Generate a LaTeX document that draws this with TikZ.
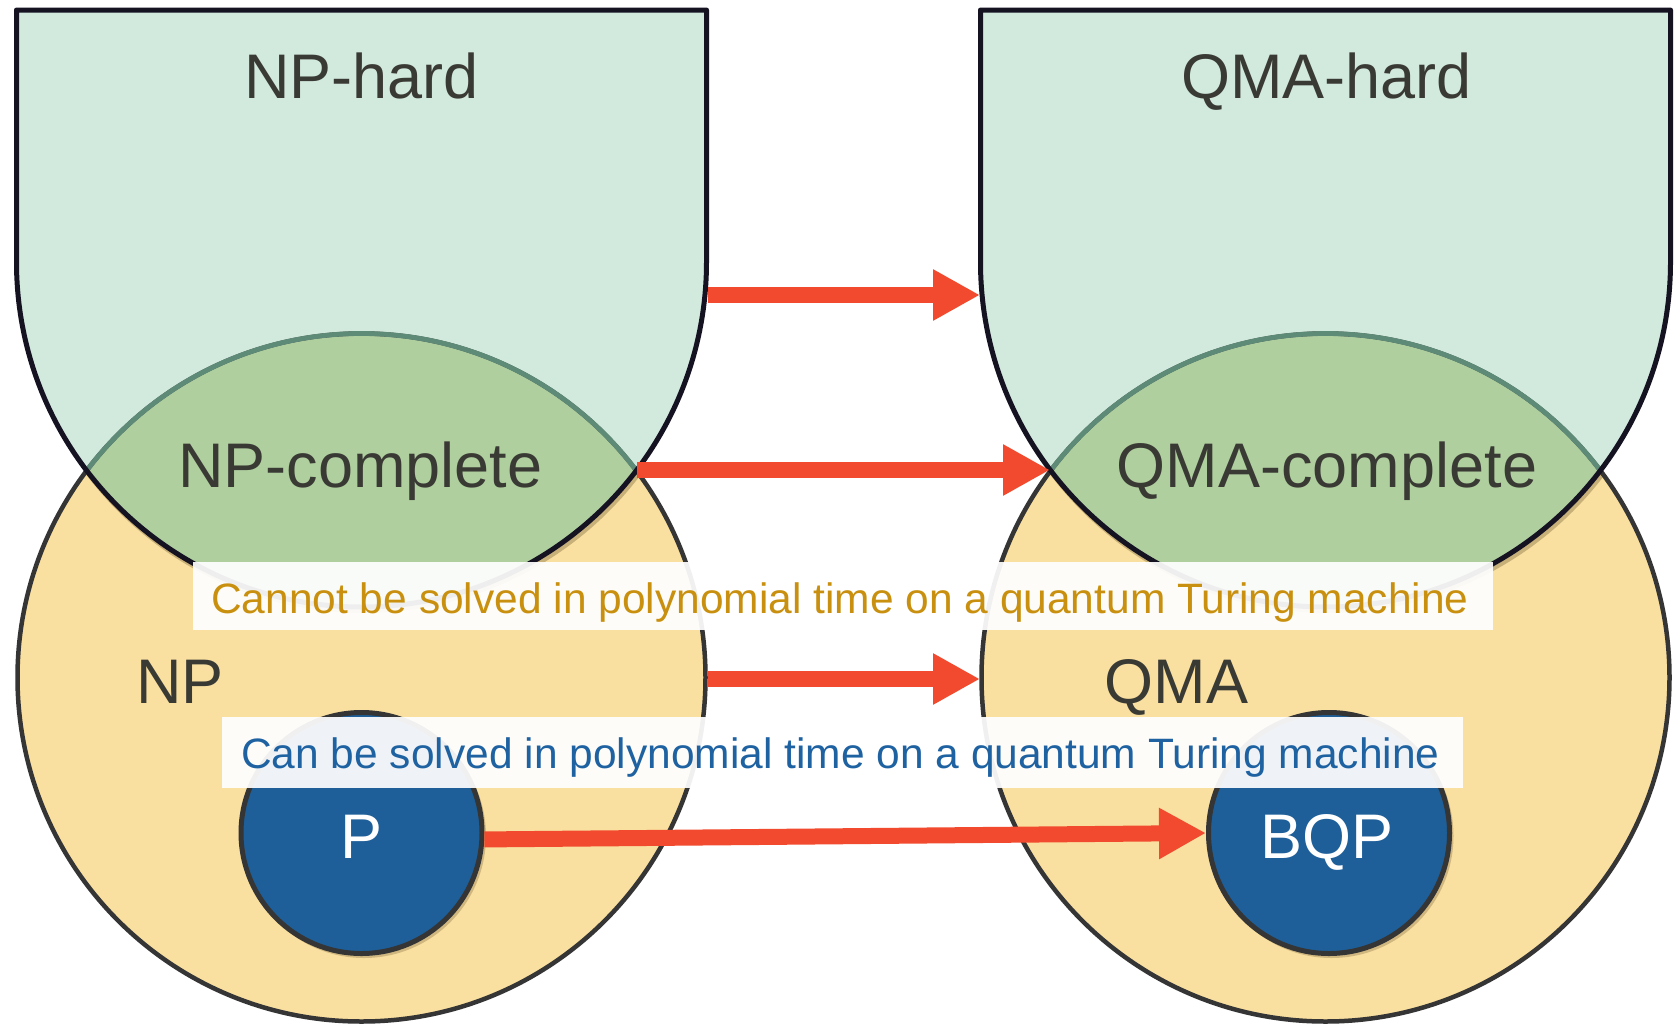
\documentclass[tikz,border=0pt]{standalone}
\usepackage{fontspec}
\setmainfont{Liberation Sans}
\usetikzlibrary{arrows.meta}
\definecolor{hardfill}{HTML}{D2E9DD}
\definecolor{npfill}{HTML}{FAE0A0}
\definecolor{lensfill}{HTML}{B0CF9F}
\definecolor{lensline}{HTML}{5E8B78}
\definecolor{darkline}{HTML}{151222}
\definecolor{greyline}{HTML}{353535}
\definecolor{pfill}{HTML}{1E5F99}
\definecolor{arrowred}{HTML}{F24A2E}
\definecolor{labeltext}{HTML}{3A3A35}
\definecolor{orangetext}{HTML}{C8900E}
\definecolor{bluetext}{HTML}{1F62A2}
\definecolor{shadowc}{HTML}{A89060}
\begin{document}
\begin{tikzpicture}[x=1pt,y=-1pt,
  bigtext/.style={font=\fontsize{63}{70}\selectfont, text=labeltext, inner sep=0pt, anchor=base},
  smalltext/.style={font=\fontsize{42.5}{50}\selectfont, inner sep=0pt, anchor=base west},
  labelbox/.style={fill=white, fill opacity=0.93, draw=none, inner sep=0pt},
  redarrow/.style={draw=arrowred, line width=16pt, -{Triangle[length=47pt,width=48pt]}},
  classbox/.style={circle, fill=pfill, draw=greyline, line width=5pt, minimum size=241pt, inner sep=0pt},
  outline/.style={draw=darkline, line width=5pt, line join=round},
  circline/.style={draw=greyline, line width=4.5pt}
]
\useasboundingbox (0,0) rectangle (1674,1026);
\fill[white] (0,0) rectangle (1674,1026);

% ---------- left (NP) and right (QMA) groups ----------
\foreach \cx in {361.5, 1325.5}{
  \fill[npfill] (\cx,677.5) circle[radius=344];
  \fill[hardfill] (\cx-345,10) -- (\cx-345,262) arc[start angle=180,end angle=0,radius=345] -- (\cx+345,10) -- cycle;
  \begin{scope}
    \clip (\cx,677.5) circle[radius=344];
    \fill[lensfill] (\cx-345,10) -- (\cx-345,262) arc[start angle=180,end angle=0,radius=345] -- (\cx+345,10) -- cycle;
    \draw[shadowc, line width=4pt, opacity=0.6] (\cx-343,266) arc[start angle=180,end angle=0,radius=345];
  \end{scope}
  \draw[circline] (\cx,677.5) circle[radius=344];
  \begin{scope}
    \clip (\cx-345,10) -- (\cx-345,262) arc[start angle=180,end angle=0,radius=345] -- (\cx+345,10) -- cycle;
    \draw[lensline, line width=4.8pt] (\cx,677.5) circle[radius=344];
  \end{scope}
  \draw[outline] (\cx-345,10) -- (\cx-345,262) arc[start angle=180,end angle=0,radius=345] -- (\cx+345,10) -- cycle;
}

% inner classes
\fill[shadowc, opacity=0.5] (364,836) circle[radius=122];
\fill[shadowc, opacity=0.5] (1331.5,836) circle[radius=122];
\node[classbox] (P) at (361.5,833) {};
\node[classbox] (BQP) at (1329,833) {};

% labels
\node[bigtext] (nphard) at (361.5,98) {NP-hard};
\node[bigtext] (qmahard) at (1326.5,98) {QMA-hard};
\node[bigtext] (npc) at (360.5,487) {NP-complete};
\node[bigtext] (qmac) at (1327,487) {QMA-complete};
\node[bigtext] (np) at (180,703) {NP};
\node[bigtext] (qma) at (1176.5,703) {QMA};
\node[bigtext, text=white] (plabel) at (361.5,858) {P};
\node[bigtext, text=white] (bqplabel) at (1327,858) {BQP};

% caption boxes
\node[labelbox, minimum width=1300pt, minimum height=68pt] (cannotbox) at (843,596) {};
\node[smalltext, text=orangetext] (cannot) at (211,613) {Cannot be solved in polynomial time on a quantum Turing machine};
\node[labelbox, minimum width=1241pt, minimum height=71pt] (canbox) at (842.5,752.5) {};
\node[smalltext, text=bluetext] (can) at (241,768) {Can be solved in polynomial time on a quantum Turing machine};

% arrow end points
\coordinate (nphardR) at (708,295);
\coordinate (qmahardL) at (980,295);
\coordinate (npcL) at (637,470);
\coordinate (qmacL) at (1050,470);
\coordinate (npR) at (708,679);
\coordinate (qmaL) at (980,679);

\draw[redarrow] (nphardR) -- (qmahardL);
\draw[redarrow] (npcL) -- (qmacL);
\draw[redarrow] (npR) -- (qmaL);
\draw[redarrow] (P.-3) -- (BQP.west);
\end{tikzpicture}
\end{document}
